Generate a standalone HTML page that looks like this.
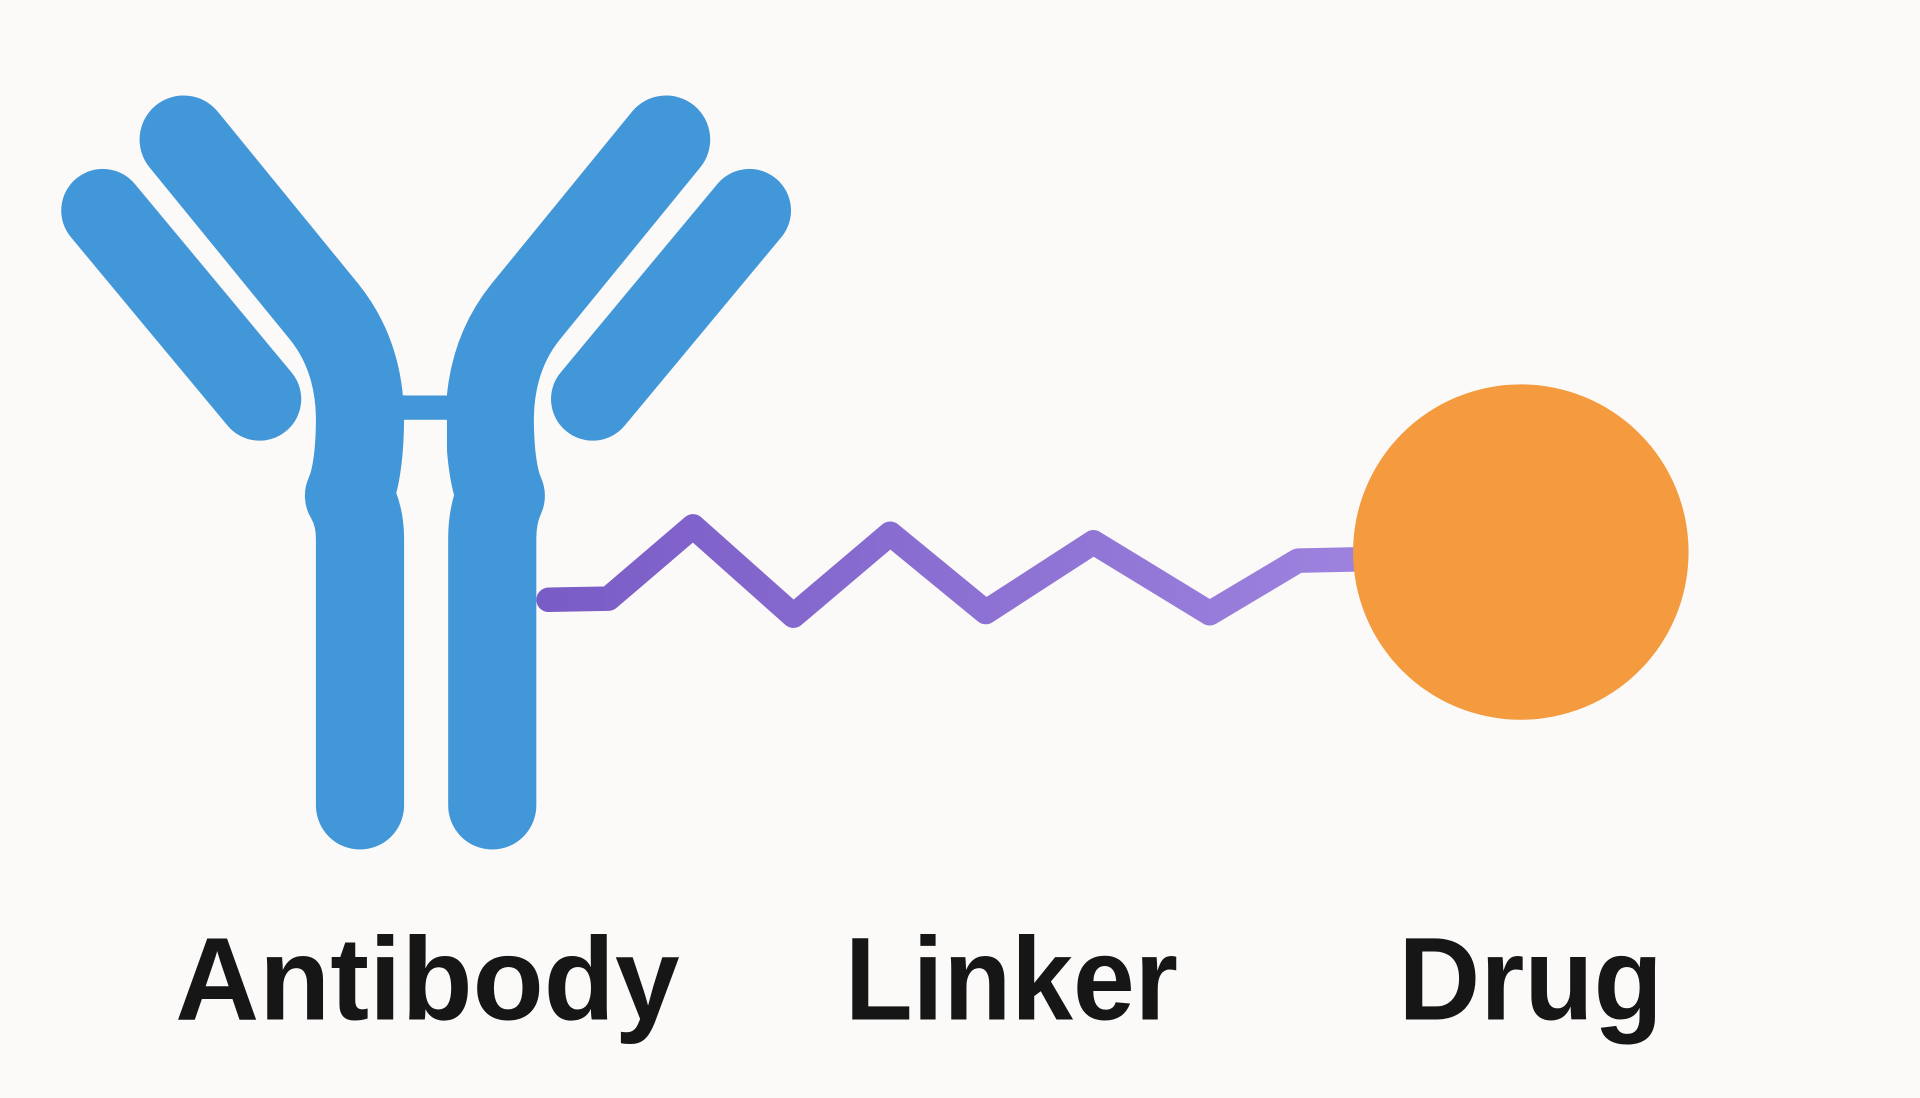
<!DOCTYPE html>
<html><head><style>html,body{margin:0;padding:0;background:#fcfaf9;}svg{display:block}</style></head>
<body>
<svg width="1920" height="1098" viewBox="0 0 1568 897" preserveAspectRatio="none" xmlns="http://www.w3.org/2000/svg">
<rect width="1568" height="897" fill="#fcfaf9"/>
<defs><linearGradient id="g" x1="0" x2="1"><stop offset="0" stop-color="#7a5cc6"/><stop offset="1" stop-color="#9d82de"/></linearGradient></defs>
<g stroke="#4297d9" stroke-linecap="round" stroke-linejoin="round" fill="none">
<line x1="84" y1="172" x2="212" y2="326" stroke-width="68"/>
<line x1="612" y1="172" x2="484" y2="326" stroke-width="68"/>
<path d="M150 114 L265 255 Q293 290 294 340 Q294 385 285 405 Q294 420 294 440 L294 658" stroke-width="72"/>
<path d="M544 114 L429 255 Q401 290 400 340 Q400 385 409 405 Q402 420 402 440 L402 658" stroke-width="72"/>
<line x1="325" y1="333" x2="370" y2="333" stroke-width="20" stroke-linecap="butt"/>
</g>
<rect x="331" y="343" width="34" height="360" fill="#fcfaf9"/>
<rect x="331" y="260" width="34" height="63" fill="#fcfaf9"/>
<polyline points="448,490 497,489 566,430 648,503 727,436 805,500 893,443 988,501 1060,458 1108,457" fill="none" stroke="url(#g)" stroke-width="20" stroke-linejoin="round" stroke-linecap="round"/>
<circle cx="1242" cy="451" r="137" fill="#f39b3e"/>
<g font-family="Liberation Sans, sans-serif" font-weight="bold" font-size="96" fill="#161616">
<text x="143" y="833" textLength="412" lengthAdjust="spacingAndGlyphs">Antibody</text>
<text x="690" y="833" textLength="272" lengthAdjust="spacingAndGlyphs">Linker</text>
<text x="1142" y="833" textLength="216" lengthAdjust="spacingAndGlyphs">Drug</text>
</g>
</svg>
</body></html>
